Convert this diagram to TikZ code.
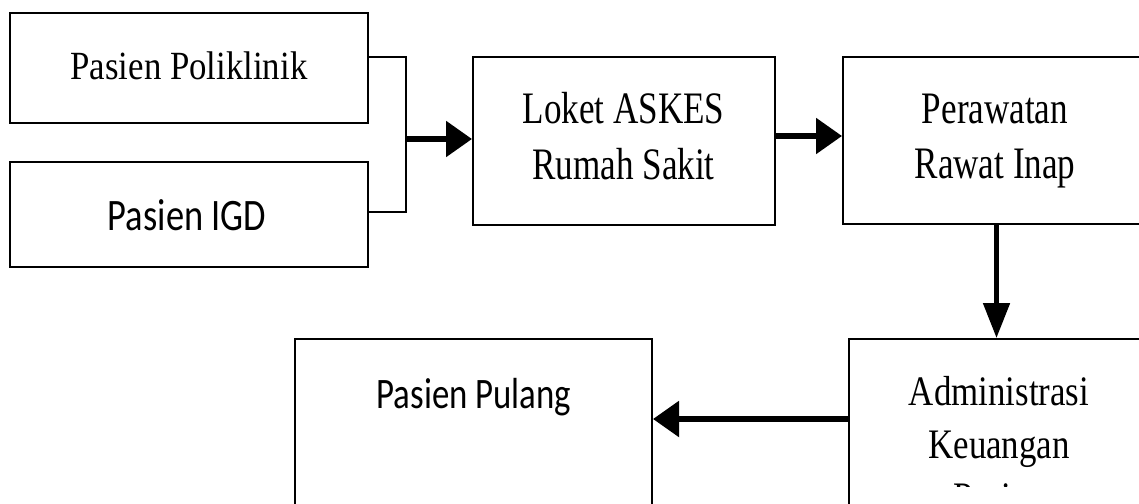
\documentclass[tikz,border=0pt]{standalone}
\usepackage{fontspec}
\usetikzlibrary{arrows.meta}
\newfontfamily\serifP[FakeStretch=0.87]{Liberation Serif}
\newfontfamily\serifL[FakeStretch=0.78]{Liberation Serif}
\newfontfamily\serifA[FakeStretch=0.83]{Liberation Serif}
\newfontfamily\sansI[FakeStretch=0.81]{Carlito}
\newfontfamily\sansP[FakeStretch=0.8]{Carlito}
\begin{document}
\begin{tikzpicture}[x=1pt,y=-1pt,
  box/.style={draw, line width=2pt, inner sep=0pt},
  lbl/.style={inner sep=0pt, align=center},
  link/.style={line width=1.2pt},
  harr/.style={line width=5.5pt, -{Triangle[length=26pt,width=35pt]}},
  varr/.style={line width=5pt, -{Triangle[length=35pt,width=26pt]}}]
\clip (0,0) rectangle (1139,503);
% boxes
\node[box, minimum width=358pt, minimum height=110pt] (poli) at (189,68) {};
\node[box, minimum width=358pt, minimum height=105pt] (igd) at (189,214.5) {};
\node[box, minimum width=302pt, minimum height=168pt] (loket) at (624,141) {};
\node[box, minimum width=307pt, minimum height=167pt] (rawat) at (996.5,140.5) {};
\node[box, minimum width=301pt, minimum height=261pt] (admin) at (999.5,469.5) {};
\node[box, minimum width=357pt, minimum height=261pt] (pulang) at (473.5,469.5) {};
% texts
\node[lbl, font=\serifP\fontsize{40}{48}\selectfont, anchor=base] (poliT) at (189,79) {Pasien Poliklinik};
\node[lbl, font=\sansI\fontsize{45}{54}\selectfont, anchor=base] (igdT) at (187,230) {Pasien IGD};
\node[lbl, font=\serifL\fontsize{45}{56}\selectfont, anchor=north] (loketT) at (623.5,92.5) {Loket ASKES\\Rumah Sakit};
\node[lbl, font=\serifL\fontsize{45}{55}\selectfont, anchor=north] (rawatT) at (995,93.5) {Perawatan\\Rawat Inap};
\begin{scope}
  \clip (849,339) rectangle (1150,486);
  \node[lbl, font=\serifA\fontsize{42}{53}\selectfont, anchor=north] (adminT) at (999,376.6) {Administrasi\\Keuangan\\Pasien};
\end{scope}
\node[lbl, font=\sansP\fontsize{43.5}{52}\selectfont, anchor=base] (pulangT) at (474,408) {Pasien Pulang};
% connectors
\coordinate (ja) at (406,57);
\coordinate (jb) at (406,212);
\coordinate (jc) at (406,139);
\coordinate (jd) at (0,136);
\coordinate (je) at (0,419);
\draw[link] (poli.east |- ja) -- (ja) -- (jb) -- (igd.east |- jb);
\draw[harr] (jc) -- (loket.west |- jc);
\draw[harr] (loket.east |- jd) -- (rawat.west |- jd);
\draw[varr] (rawat.south) -- (rawat.south |- admin.north);
\draw[harr] (admin.west |- je) -- (pulang.east |- je);
\end{tikzpicture}
\end{document}
